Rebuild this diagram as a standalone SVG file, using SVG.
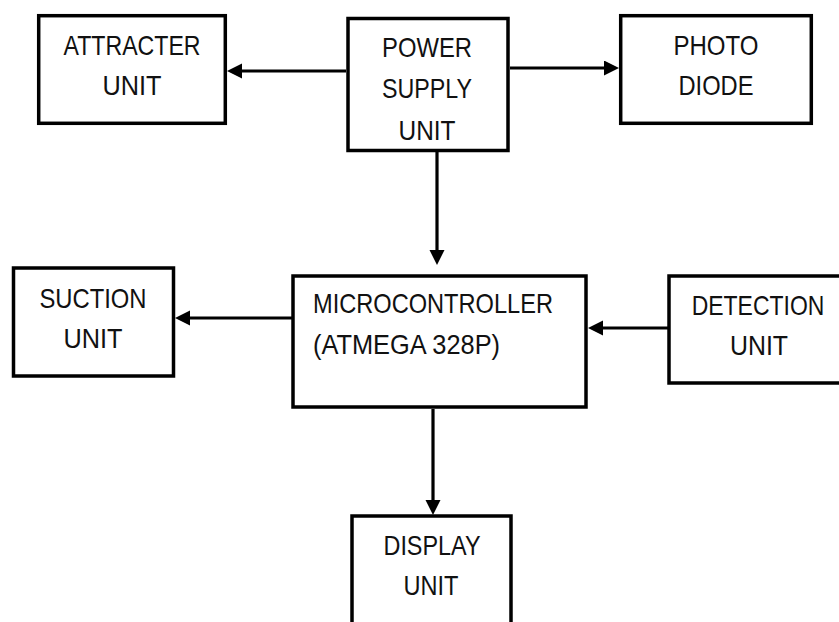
<svg xmlns="http://www.w3.org/2000/svg" width="839" height="622" viewBox="0 0 839 622">
<defs>
<style>
.box{fill:#fff;stroke:#000;stroke-width:3.5}
.t{font-family:"Liberation Sans",Arial,sans-serif;font-size:28px;fill:#111;text-anchor:middle}
.ts{font-family:"Liberation Sans",Arial,sans-serif;font-size:28px;fill:#111;text-anchor:start}
.c{stroke:#000;stroke-width:3.2;fill:none;marker-end:url(#ah)}
</style>
<marker id="ah" markerUnits="userSpaceOnUse" markerWidth="16" markerHeight="16" refX="5" refY="7.5" orient="auto">
<path d="M0,0 L15,7.5 L0,15 Z" fill="#000"/>
</marker>
</defs>
<rect width="839" height="622" fill="#fff"/>
<g id="connectors">
<line class="c" x1="346" y1="71" x2="237" y2="71"/>
<line class="c" x1="510" y1="68" x2="609" y2="68"/>
<line class="c" x1="437" y1="152" x2="437" y2="255"/>
<line class="c" x1="292" y1="318" x2="185" y2="318"/>
<line class="c" x1="668" y1="328" x2="598" y2="328"/>
<line class="c" x1="433" y1="409" x2="433" y2="505"/>
</g>
<g id="attracter">
<rect class="box" x="38.7" y="15.7" width="186.6" height="107.6"/>
<text class="t" x="132" y="55" textLength="137" lengthAdjust="spacingAndGlyphs">ATTRACTER</text>
<text class="t" x="132" y="95" textLength="59" lengthAdjust="spacingAndGlyphs">UNIT</text>
</g>
<g id="power">
<rect class="box" x="348" y="18.5" width="160" height="132"/>
<text class="t" x="427" y="57" textLength="90" lengthAdjust="spacingAndGlyphs">POWER</text>
<text class="t" x="427" y="98" textLength="90" lengthAdjust="spacingAndGlyphs">SUPPLY</text>
<text class="t" x="427" y="140" textLength="57" lengthAdjust="spacingAndGlyphs">UNIT</text>
</g>
<g id="photo">
<rect class="box" x="620.7" y="15.7" width="190.6" height="107.6"/>
<text class="t" x="716" y="55" textLength="85" lengthAdjust="spacingAndGlyphs">PHOTO</text>
<text class="t" x="716" y="95" textLength="75" lengthAdjust="spacingAndGlyphs">DIODE</text>
</g>
<g id="suction">
<rect class="box" x="13.5" y="268" width="160" height="108"/>
<text class="t" x="93" y="308" textLength="107" lengthAdjust="spacingAndGlyphs">SUCTION</text>
<text class="t" x="93" y="348" textLength="59" lengthAdjust="spacingAndGlyphs">UNIT</text>
</g>
<g id="micro">
<rect class="box" x="293" y="276" width="293" height="131"/>
<text class="ts" x="313" y="313" textLength="240" lengthAdjust="spacingAndGlyphs">MICROCONTROLLER</text>
<text class="ts" x="313" y="354" textLength="187" lengthAdjust="spacingAndGlyphs">(ATMEGA 328P)</text>
</g>
<g id="detection">
<rect class="box" x="669" y="276" width="172" height="107"/>
<text class="t" transform="translate(758,315) scale(0.82,1)" x="0" y="0">DETECTION</text>
<text class="t" x="759" y="355" textLength="58" lengthAdjust="spacingAndGlyphs">UNIT</text>
</g>
<g id="display">
<rect class="box" x="352" y="516" width="159" height="150"/>
<text class="t" x="432" y="555" textLength="97" lengthAdjust="spacingAndGlyphs">DISPLAY</text>
<text class="t" x="431" y="595" textLength="55" lengthAdjust="spacingAndGlyphs">UNIT</text>
</g>
</svg>
